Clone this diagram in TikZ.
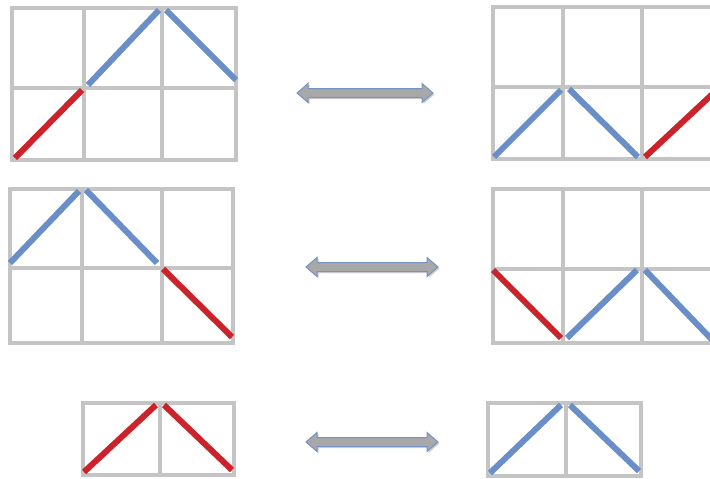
\documentclass[tikz,border=0pt]{standalone}
\usetikzlibrary{calc}
\definecolor{gridgray}{HTML}{C4C4C4}
\definecolor{diagblue}{HTML}{6A8EC8}
\definecolor{diagred}{HTML}{CC2229}
\definecolor{arrowfill}{HTML}{A8A8A8}
\definecolor{arrowedge}{HTML}{7593C4}
\tikzset{
  gridline/.style={draw=gridgray, line width=3.4pt, line cap=square},
  bluediag/.style={draw=diagblue, line width=6pt, line cap=butt},
  reddiag/.style={draw=diagred, line width=6pt, line cap=butt},
  dblarrow/.style={fill=arrowfill, draw=arrowedge, line width=1pt, line join=miter},
  arrowshadow/.style={fill=black, opacity=0.18, draw=none},
}
\newcommand{\dblarr}[3]{% cx, cy, half length
  \fill[arrowshadow] ($(#1-#3+1.5,#2+1.5)$) -- ++(11,-9.5) -- ++(0,5) -- ++({2*#3-22},0) -- ++(0,-5) -- ++(11,9.5) -- ++(-11,9.5) -- ++(0,-5) -- ++({22-2*#3},0) -- ++(0,5) -- cycle;
  \draw[dblarrow] (#1-#3,#2) -- ++(11,-9.5) -- ++(0,5) -- ++({2*#3-22},0) -- ++(0,-5) -- ++(11,9.5) -- ++(-11,9.5) -- ++(0,-5) -- ++({22-2*#3},0) -- ++(0,5) -- cycle;
}
\begin{document}
\begin{tikzpicture}[x=1pt,y=-1pt]
\useasboundingbox (0,0) rectangle (710,479);
\fill[white] (0,0) rectangle (710,479);
\clip (0,0) rectangle (710,479);
% grid 1 (top left)
\draw[gridline] (12,8) rectangle (236,160);
\draw[gridline] (84,8) -- (84,160) (162,8) -- (162,160) (12,88) -- (236,88);
% grid 2 (top right)
\draw[gridline] (493,7) rectangle (720,159);
\draw[gridline] (563,7) -- (563,159) (642,7) -- (642,159) (493,87) -- (720,87);
% grid 3 (middle left)
\draw[gridline] (10,189) rectangle (233,343);
\draw[gridline] (82,189) -- (82,343) (162,189) -- (162,343) (10,268) -- (233,268);
% grid 4 (middle right)
\draw[gridline] (493,189) rectangle (720,343);
\draw[gridline] (563,189) -- (563,343) (642,189) -- (642,343) (493,269) -- (720,269);
% grid 5 (bottom left)
\draw[gridline] (83,403) rectangle (234,475);
\draw[gridline] (160,403) -- (160,475);
% grid 6 (bottom right)
\draw[gridline] (488,403) rectangle (641,476);
\draw[gridline] (566,403) -- (566,476);
% diagonals
\draw[reddiag] (15,158) -- (82,90);
\draw[bluediag] (88,85) -- (159,10);
\draw[bluediag] (166,10) -- (236,80);
\draw[bluediag] (494,157) -- (561,90);
\draw[bluediag] (569,89) -- (638,157);
\draw[reddiag] (645,157) -- (720,87);
\draw[bluediag] (10,263) -- (79,191);
\draw[bluediag] (86,190) -- (157,263);
\draw[reddiag] (163,269) -- (232,337);
\draw[reddiag] (493,270) -- (561,338);
\draw[bluediag] (567,338) -- (637,270);
\draw[bluediag] (645,270) -- (720,348);
\draw[reddiag] (84,472) -- (156,405);
\draw[reddiag] (164,405) -- (232,470);
\draw[bluediag] (490,473) -- (561,405);
\draw[bluediag] (570,405) -- (639,471);
% double arrows
\dblarr{365}{93}{68}
\dblarr{372}{267}{66}
\dblarr{372}{442}{66}
\end{tikzpicture}
\end{document}
